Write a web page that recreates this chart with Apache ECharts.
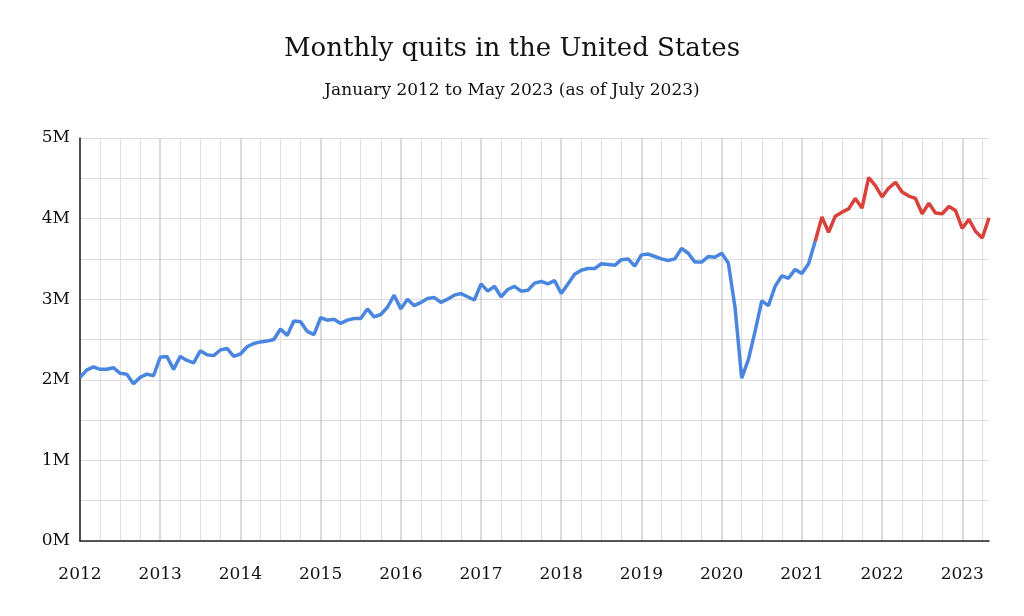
<!DOCTYPE html>
<html><head><meta charset="utf-8">
<script src="https://cdn.jsdelivr.net/npm/echarts@6/dist/echarts.min.js"></script>
<style>html,body{margin:0;background:#fff}#c{width:1024px;height:616px}</style>
</head><body><div id="c"></div>
<script>
const years = [2012,2013,2014,2015,2016,2017,2018,2019,2020,2021,2022,2023];
const quits = [
2.03,2.12,2.16,2.13,2.13,2.15,2.08,2.07,1.95,2.03,2.07,2.05,
2.28,2.29,2.13,2.29,2.24,2.21,2.36,2.31,2.30,2.37,2.39,2.29,
2.32,2.41,2.45,2.47,2.48,2.50,2.63,2.55,2.73,2.72,2.60,2.56,
2.77,2.74,2.75,2.70,2.74,2.76,2.76,2.88,2.78,2.81,2.90,3.05,
2.88,3.00,2.92,2.96,3.01,3.02,2.96,3.00,3.05,3.07,3.03,2.99,
3.19,3.10,3.16,3.03,3.12,3.16,3.10,3.11,3.20,3.22,3.19,3.23,
3.07,3.19,3.31,3.36,3.38,3.38,3.44,3.43,3.42,3.49,3.50,3.41,
3.55,3.56,3.53,3.50,3.48,3.50,3.63,3.57,3.46,3.46,3.53,3.52,
3.57,3.45,2.90,2.02,2.25,2.60,2.98,2.92,3.16,3.29,3.26,3.37,
3.32,3.44,3.72,4.02,3.83,4.03,4.08,4.12,4.25,4.13,4.51,4.41,
4.27,4.38,4.45,4.33,4.28,4.25,4.06,4.19,4.07,4.06,4.15,4.10,
3.88,3.99,3.84,3.76,4.01];
const splitIndex = 110; // March 2021: colour changes here
const yTicks = ['0M','1M','2M','3M','4M','5M'];

const months = quits.map((_, i) => (years[0] + Math.floor(i / 12)) + '-' + String(i % 12 + 1).padStart(2, '0'));
const blue = quits.map((v, i) => i <= splitIndex ? v : null);
const red = quits.map((v, i) => i >= splitIndex ? v : null);
const font = 'DejaVu Serif';

const chart = echarts.init(document.getElementById('c'));
chart.setOption({
  animation: false,
  title: {
    text: 'Monthly quits in the United States',
    subtext: 'January 2012 to May 2023 (as of July 2023)',
    left: 'center', top: 31, itemGap: 20,
    textStyle: {fontFamily: font, fontSize: 26, fontWeight: 'normal', color: '#111'},
    subtextStyle: {fontFamily: font, fontSize: 17, color: '#111'}
  },
  grid: {left: 80, right: 35, top: 138, bottom: 75},
  xAxis: [{
    type: 'category', data: months, boundaryGap: false,
    axisLine: {lineStyle: {color: '#222', width: 1.5}},
    axisTick: {show: false},
    axisLabel: {interval: (i) => i % 12 === 0, formatter: (v) => v.slice(0, 4),
      fontFamily: font, fontSize: 17, color: '#111', margin: 25},
    splitLine: {show: true, interval: (i) => i % 12 === 0, lineStyle: {color: '#cfcfcf', width: 1.5}}
  }, {
    type: 'category', data: months, boundaryGap: false, position: 'bottom',
    axisLine: {show: false}, axisTick: {show: false}, axisLabel: {show: false},
    splitLine: {show: true, interval: (i) => i % 3 === 0 && i % 12 !== 0, lineStyle: {color: '#e0e0e0'}}
  }],
  yAxis: {
    type: 'value', min: 0, max: 5, interval: 0.5,
    axisLine: {show: true, lineStyle: {color: '#222', width: 1.5}},
    axisTick: {show: false},
    axisLabel: {formatter: (v) => Number.isInteger(v) ? yTicks[v] : '',
      fontFamily: font, fontSize: 17, color: '#111', margin: 10},
    splitLine: {lineStyle: {color: '#dcdcdc'}}
  },
  series: [
    {type: 'line', data: blue, xAxisIndex: 0, symbol: 'none', lineStyle: {color: '#4a86e0', width: 3.5}},
    {type: 'line', data: red, xAxisIndex: 0, symbol: 'none', lineStyle: {color: '#d9413b', width: 3.5}}
  ]
});
</script></body></html>
